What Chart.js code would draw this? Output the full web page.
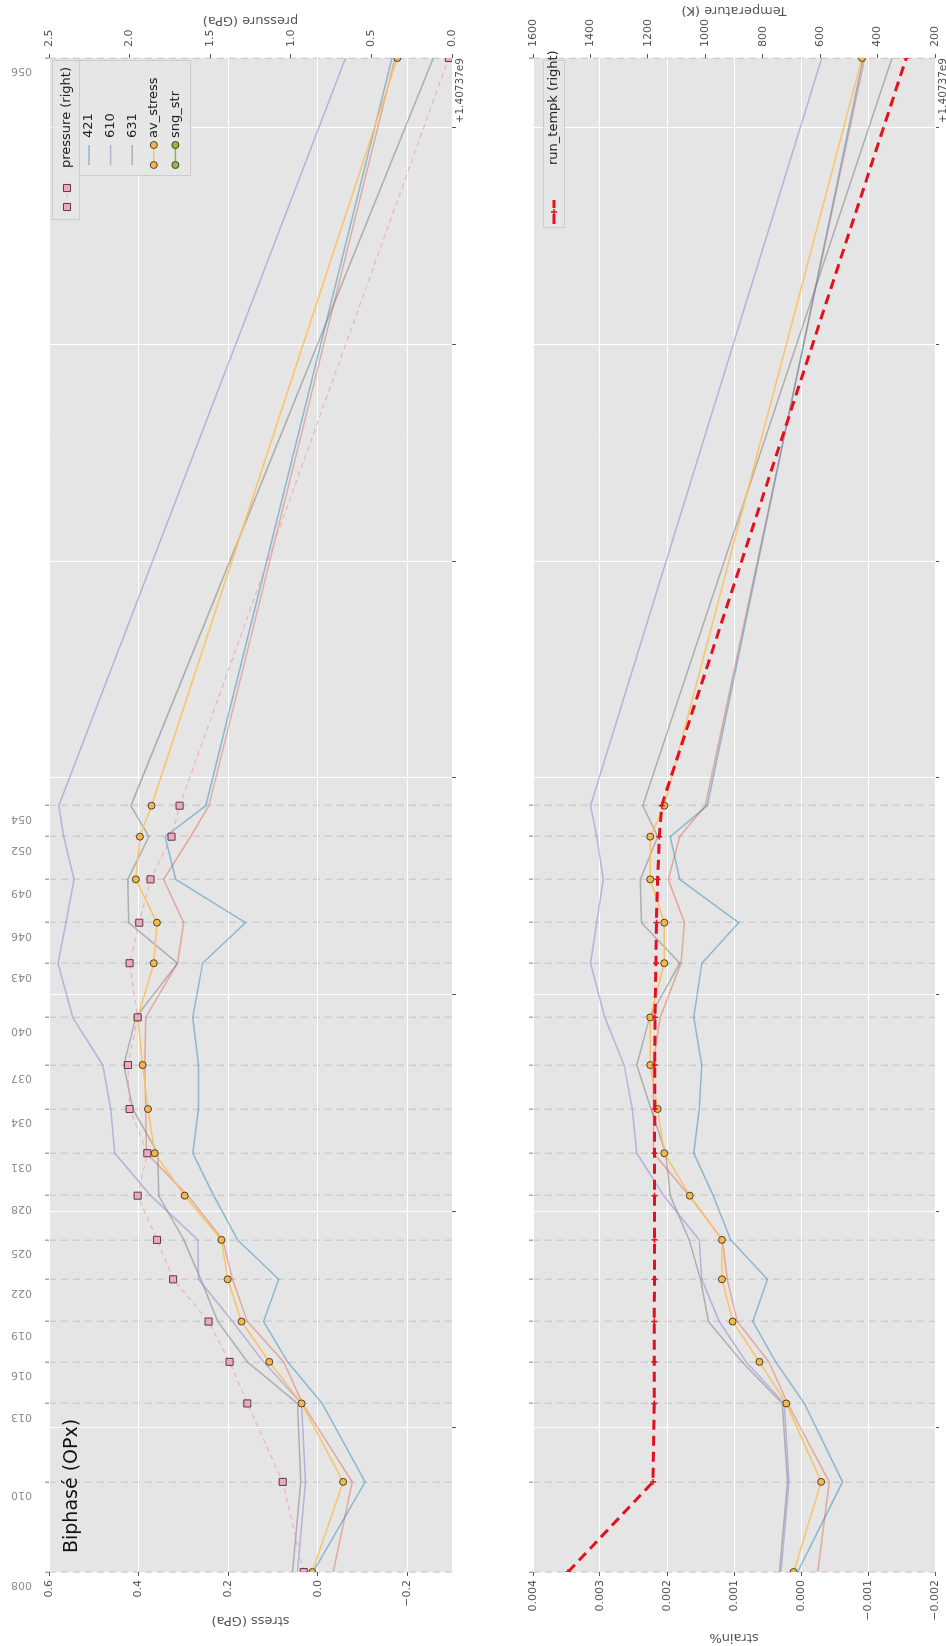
<!DOCTYPE html>
<html>
<head>
<meta charset="utf-8">
<script src="https://cdn.jsdelivr.net/npm/chart.js@4.4.1/dist/chart.umd.min.js"></script>
<style>
html, body { margin: 0; padding: 0; background: #fff; overflow: hidden; width: 946px; height: 1646px; }
/* the figure is drawn landscape, then turned a quarter turn to the left */
#fig { position: absolute; left: 0; top: 0; width: 1646px; height: 960px;
       transform-origin: 0 0; transform: translateY(1646px) rotate(-90deg); }
#fig canvas { display: block; }
</style>
</head>
<body>
<div id="fig">
  <canvas id="stressChart" width="1646" height="480"></canvas>
  <canvas id="strainChart" width="1646" height="480"></canvas>
</div>
<script>
// file names and their time stamps (seconds, offset +1.40737e9)
const fileLabels = ['008','010','013','016','019','022','025','028','031','034','037','040','043','046','049','052','054','056'];
const times = [335, 751, 1113, 1305, 1491, 1686, 1868, 2072, 2268, 2472, 2675, 2895, 3145, 3332, 3532, 3729, 3872, 7323];
const majorTimeTicks = [1000, 2000, 3000, 4000, 5000, 6000, 7000];

// top panel
const pressureGPa = [0.92, 1.05, 1.27, 1.38, 1.51, 1.73, 1.83, 1.95, 1.89, 2.00, 2.01, 1.95, 2.00, 1.94, 1.87, 1.74, 1.69, 0.02];
const avStress    = [0.012, -0.057, 0.036, 0.108, 0.170, 0.201, 0.215, 0.297, 0.364, 0.379, 0.391, 0.402, 0.366, 0.359, 0.406, 0.397, 0.371, -0.178];
const stress421   = [0.010, -0.106, -0.010, 0.067, 0.121, 0.087, 0.179, 0.232, 0.279, 0.266, 0.266, 0.279, 0.257, 0.161, 0.317, 0.341, 0.250, -0.166];
const stress610   = [0.045, 0.027, 0.036, 0.121, 0.190, 0.266, 0.268, 0.373, 0.453, 0.462, 0.480, 0.547, 0.580, 0.562, 0.544, 0.567, 0.578, -0.062];
const stress631   = [0.056, 0.038, 0.045, 0.157, 0.223, 0.261, 0.299, 0.355, 0.357, 0.413, 0.433, 0.406, 0.313, 0.422, 0.424, 0.377, 0.417, -0.258];
const stressExtra = [-0.035, -0.077, 0.034, 0.076, 0.157, 0.190, 0.212, 0.290, 0.382, 0.384, 0.386, 0.384, 0.313, 0.299, 0.344, 0.284, 0.243, -0.173];
const sngStr = [];

// bottom panel
const strain421   = [0.00005, -0.00062, -0.00005, 0.00038, 0.00072, 0.00050, 0.00105, 0.00131, 0.00160, 0.00152, 0.00148, 0.00160, 0.00148, 0.00093, 0.00181, 0.00195, 0.00140, -0.00093];
const strain610   = [0.00030, 0.00018, 0.00025, 0.00082, 0.00122, 0.00148, 0.00152, 0.00205, 0.00245, 0.00252, 0.00264, 0.00293, 0.00314, 0.00305, 0.00295, 0.00305, 0.00314, -0.00031];
const strain631   = [0.00032, 0.00020, 0.00028, 0.00088, 0.00138, 0.00150, 0.00167, 0.00195, 0.00202, 0.00224, 0.00245, 0.00226, 0.00181, 0.00238, 0.00240, 0.00214, 0.00236, -0.00136];
const strainExtra = [-0.00025, -0.00042, 0.00020, 0.00048, 0.00095, 0.00110, 0.00117, 0.00167, 0.00220, 0.00220, 0.00221, 0.00210, 0.00179, 0.00174, 0.00198, 0.00181, 0.00143, -0.00095];
const avStrain    = [0.00011, -0.00030, 0.00022, 0.00062, 0.00102, 0.00118, 0.00118, 0.00166, 0.00204, 0.00214, 0.00225, 0.00225, 0.00204, 0.00204, 0.00225, 0.00225, 0.00204, -0.00091];
const runTempK    = [1478, 1182, 1178, 1178, 1178, 1177, 1177, 1177, 1177, 1176, 1176, 1175, 1172, 1170, 1166, 1160, 1152, 300];

// axis ticks
const stressTicks = [-0.2, 0, 0.2, 0.4, 0.6];
const pressureTicks = [0, 0.5, 1.0, 1.5, 2.0, 2.5];
const strainTicks = [-0.002, -0.001, 0, 0.001, 0.002, 0.003, 0.004];
const tempTicks = [200, 400, 600, 800, 1000, 1200, 1400, 1600];

const panelTitle = 'Biphasé (OPx)';

const FONT = "'DejaVu Sans', sans-serif";
const TICK = '#555555';
Chart.defaults.font.family = FONT;

const pts = arr => arr.map((v, i) => ({ x: times[i], y: v }));
const fmt = (v, d) => (v < 0 ? '\u2212' : '') + Math.abs(v).toFixed(d);
const setTicks = list => scale => { scale.ticks = list.map(v => ({ value: v })); };

const C_BLUE = 'rgba(52,138,189,0.5)';
const C_PURPLE = 'rgba(152,142,213,0.6)';
const C_GREY = 'rgba(119,119,119,0.5)';
const C_RED = 'rgba(226,74,51,0.4)';

function thinLine(label, arr, color, legendIndex) {
  return { label, data: pts(arr), borderColor: color, borderWidth: 1.5, pointRadius: 0, legendIndex };
}

function timeScales(showNames, topH, bottomH) {
  return {
    x: {
      type: 'linear', position: 'bottom', min: times[0], max: times[times.length - 1],
      afterBuildTicks: setTicks(majorTimeTicks),
      ticks: { display: false },
      grid: { color: '#ffffff', lineWidth: 1, tickLength: 4, tickColor: TICK },
      border: { display: false },
      title: { display: true, text: '+1.40737e9', align: 'end', color: TICK, font: { size: 10.5 }, padding: 0 },
      afterFit: s => { s.height = bottomH; }
    },
    x2: {
      type: 'linear', position: 'top', min: times[0], max: times[times.length - 1],
      afterBuildTicks: setTicks(times),
      ticks: { display: showNames, autoSkip: false, minRotation: 90, maxRotation: 90, padding: 13,
               color: '#8a8a8a', font: { size: 11 }, callback: (v, i) => fileLabels[i] },
      grid: { color: 'rgba(165,165,165,0.38)', lineWidth: 1.5, tickLength: 4, tickColor: '#aaaaaa' },
      border: { display: false, dash: [7, 5] },
      afterFit: s => { s.height = topH; }
    }
  };
}

const plotBg = {
  id: 'plotBg',
  beforeDraw(chart) {
    const { ctx, chartArea: a } = chart;
    ctx.save();
    ctx.fillStyle = '#E5E5E5';
    ctx.fillRect(a.left, a.top, a.right - a.left, a.bottom - a.top);
    ctx.restore();
  }
};

function legendBox(ctx, x, y, w, h) {
  ctx.save();
  ctx.fillStyle = 'rgba(229,229,229,0.9)';
  ctx.strokeStyle = '#cccccc';
  ctx.lineWidth = 1;
  ctx.fillRect(x, y, w, h);
  ctx.strokeRect(x + 0.5, y + 0.5, w - 1, h - 1);
  ctx.restore();
}

function marker(ctx, ds, x, y) {
  const r = ds.pointRadius;
  if (!r) return;
  ctx.save();
  ctx.setLineDash([]);
  ctx.fillStyle = ds.pointBackgroundColor || ds.borderColor;
  ctx.strokeStyle = ds.pointBorderColor || ds.borderColor;
  ctx.lineWidth = ds.pointBorderWidth || 1;
  ctx.beginPath();
  if (ds.pointStyle === 'rect') {
    const s = r * Math.SQRT1_2;
    ctx.rect(x - s, y - s, 2 * s, 2 * s);
    ctx.fill(); ctx.stroke();
  } else if (ds.pointStyle === 'cross') {
    ctx.moveTo(x - r, y); ctx.lineTo(x + r, y);
    ctx.moveTo(x, y - r); ctx.lineTo(x, y + r);
    ctx.stroke();
  } else {
    ctx.arc(x, y, r, 0, Math.PI * 2);
    ctx.fill(); ctx.stroke();
  }
  ctx.restore();
}

function legendRow(ctx, ds, x1, x2, tx, y) {
  ctx.save();
  ctx.strokeStyle = ds.borderColor;
  ctx.lineWidth = ds.borderWidth;
  ctx.setLineDash(ds.borderDash || []);
  ctx.beginPath(); ctx.moveTo(x1, y); ctx.lineTo(x2, y); ctx.stroke();
  ctx.restore();
  if (ds.pointStyle === 'cross') {
    marker(ctx, ds, (x1 + x2) / 2, y);
  } else {
    marker(ctx, ds, x1, y);
    marker(ctx, ds, x2, y);
  }
  ctx.save();
  ctx.fillStyle = '#222222';
  ctx.font = '13px ' + FONT;
  ctx.textBaseline = 'middle';
  ctx.fillText(ds.label, tx, y);
  ctx.restore();
}

function upTitle(ctx, text, x, y) {
  ctx.save();
  ctx.translate(x, y);
  ctx.rotate(-Math.PI / 2);
  ctx.fillStyle = TICK;
  ctx.font = '13px ' + FONT;
  ctx.textAlign = 'center';
  ctx.textBaseline = 'middle';
  ctx.fillText(text, 0, 0);
  ctx.restore();
}

const stressDecor = {
  id: 'stressDecor',
  afterDraw(chart) {
    const { ctx, chartArea: a } = chart;
    const sets = chart.data.datasets;
    const listed = sets.filter(d => d.legendIndex !== undefined).sort((p, q) => p.legendIndex - q.legendIndex);
    legendBox(ctx, a.right - 118, a.top + 26, 116, 116);
    listed.forEach((d, i) => legendRow(ctx, d, a.right - 107, a.right - 87, a.right - 80, a.top + 40 + i * 21.6));
    legendBox(ctx, a.right - 162, a.top + 3, 160, 28);
    legendRow(ctx, sets[0], a.right - 149, a.right - 130, a.right - 110, a.top + 18);

    ctx.save();
    ctx.fillStyle = '#111111';
    ctx.font = '19px ' + FONT;
    ctx.textBaseline = 'middle';
    ctx.fillText(panelTitle, a.left + 19, a.top + 23);
    ctx.restore();

    upTitle(ctx, 'pressure (GPa)', chart.width - 20, (a.top + a.bottom) / 2);
  }
};

const strainDecor = {
  id: 'strainDecor',
  afterDraw(chart) {
    const { ctx, chartArea: a } = chart;
    legendBox(ctx, a.right - 170, a.top + 10, 168, 22);
    legendRow(ctx, chart.data.datasets[0], a.right - 166, a.right - 142, a.right - 107, a.top + 21);
    upTitle(ctx, 'Temperature (K)', chart.width - 10, (a.top + a.bottom) / 2);
  }
};

new Chart(document.getElementById('stressChart'), {
  type: 'line',
  data: {
    datasets: [
      { label: 'pressure (right)', data: pts(pressureGPa), yAxisID: 'y1',
        borderColor: 'rgba(240,160,172,0.75)', borderWidth: 1.2, borderDash: [5, 4],
        pointStyle: 'rect', pointRadius: 5, pointBackgroundColor: '#eeaabb',
        pointBorderColor: '#5a3a44', pointBorderWidth: 1 },
      { label: 'av_stress', data: pts(avStress), borderColor: 'rgba(251,193,94,0.95)', borderWidth: 1.5,
        pointStyle: 'circle', pointRadius: 3.5, pointBackgroundColor: '#f2b84b',
        pointBorderColor: '#4d4030', pointBorderWidth: 1, legendIndex: 3 },
      { label: 'sng_str', data: pts(sngStr), borderColor: '#8EBA42', borderWidth: 1.5,
        pointStyle: 'circle', pointRadius: 3.5, pointBackgroundColor: '#8EBA42',
        pointBorderColor: '#3a4a20', pointBorderWidth: 1, legendIndex: 4 },
      thinLine('421', stress421, C_BLUE, 0),
      thinLine('610', stress610, C_PURPLE, 1),
      thinLine('631', stress631, C_GREY, 2),
      thinLine('', stressExtra, C_RED)
    ]
  },
  options: {
    responsive: false,
    animation: false,
    layout: { padding: { top: 0, left: 0, right: 0, bottom: 13 } },
    plugins: { legend: { display: false }, tooltip: { enabled: false } },
    scales: Object.assign(timeScales(true, 49, 15), {
      y: {
        type: 'linear', position: 'left', min: -0.3, max: 0.6,
        afterBuildTicks: setTicks(stressTicks),
        ticks: { color: TICK, font: { size: 11 }, padding: 4, callback: v => fmt(v, 1) },
        grid: { color: '#ffffff', lineWidth: 1, tickLength: 4, tickColor: TICK },
        border: { display: false },
        title: { display: true, text: 'stress (GPa)', color: TICK, font: { size: 13 }, padding: { top: 18, bottom: 0 } },
        afterFit: s => { s.width = 74; }
      },
      y1: {
        type: 'linear', position: 'right', min: 0, max: 2.5,
        afterBuildTicks: setTicks(pressureTicks),
        ticks: { color: TICK, font: { size: 11 }, padding: 7, callback: v => fmt(v, 1) },
        grid: { drawOnChartArea: false, tickLength: 4, tickColor: TICK },
        border: { display: false },
        afterFit: s => { s.width = 58; }
      }
    })
  },
  plugins: [plotBg, stressDecor]
});

new Chart(document.getElementById('strainChart'), {
  type: 'line',
  data: {
    datasets: [
      { label: 'run_tempk (right)', data: pts(runTempK), yAxisID: 'y1',
        borderColor: '#e3101e', borderWidth: 3, borderDash: [10, 6],
        pointStyle: 'cross', pointRadius: 3, pointBorderColor: '#e3101e', pointBorderWidth: 1.5 },
      { label: 'av_strain', data: pts(avStrain), borderColor: 'rgba(251,193,94,0.95)', borderWidth: 1.5,
        pointStyle: 'circle', pointRadius: 3.5, pointBackgroundColor: '#f2b84b',
        pointBorderColor: '#4d4030', pointBorderWidth: 1 },
      thinLine('421', strain421, C_BLUE),
      thinLine('610', strain610, C_PURPLE),
      thinLine('631', strain631, C_GREY),
      thinLine('', strainExtra, C_RED)
    ]
  },
  options: {
    responsive: false,
    animation: false,
    layout: { padding: { top: 0, left: 0, right: 0, bottom: 10 } },
    plugins: { legend: { display: false }, tooltip: { enabled: false } },
    scales: Object.assign(timeScales(false, 53, 15), {
      y: {
        type: 'linear', position: 'left', min: -0.002, max: 0.004,
        afterBuildTicks: setTicks(strainTicks),
        ticks: { color: TICK, font: { size: 11 }, padding: 4, callback: v => fmt(v, 3) },
        grid: { color: '#ffffff', lineWidth: 1, tickLength: 4, tickColor: TICK },
        border: { display: false },
        title: { display: true, text: 'strain%', color: TICK, font: { size: 13 }, padding: { top: 1, bottom: 0 } },
        afterFit: s => { s.width = 74; }
      },
      y1: {
        type: 'linear', position: 'right', min: 200, max: 1600,
        afterBuildTicks: setTicks(tempTicks),
        ticks: { color: TICK, font: { size: 11 }, padding: 7, callback: v => String(v) },
        grid: { drawOnChartArea: false, tickLength: 4, tickColor: TICK },
        border: { display: false },
        afterFit: s => { s.width = 58; }
      }
    })
  },
  plugins: [plotBg, strainDecor]
});
</script>
</body>
</html>
